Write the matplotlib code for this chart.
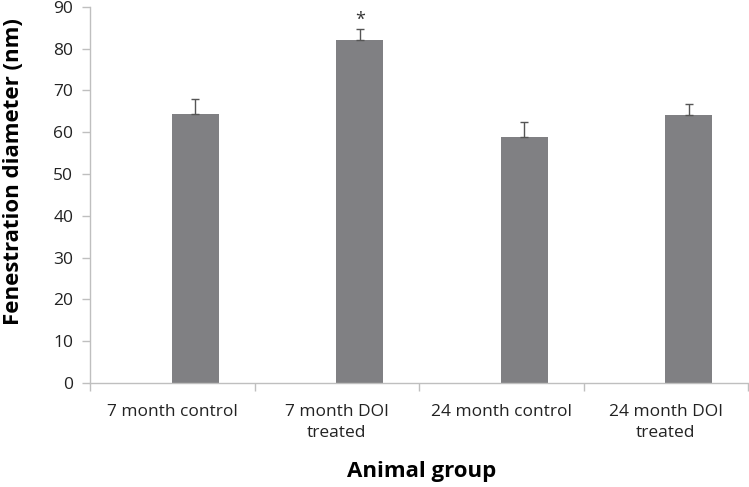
import numpy as np
import matplotlib
matplotlib.use("Agg")
import matplotlib.pyplot as plt

plt.rcParams["font.family"] = ["Open Sans", "DejaVu Sans"]

groups = ["7 month control", "7 month DOI\ntreated", "24 month control", "24 month DOI\ntreated"]
diameter = [64.3, 82.1, 58.9, 64.0]
sem = [3.6, 2.5, 3.6, 2.8]
significant = [False, True, False, False]

BAR_COLOR = "#808083"
AXIS_COLOR = "#bfbfbf"

fig = plt.figure(figsize=(7.49, 4.87), dpi=100)
ax = fig.add_axes([0.1202, 0.2136, 0.8785, 0.7726])

x = np.arange(len(groups))
offset = 0.14
width = 0.286
ax.bar(x + offset, diameter, width=width, color=BAR_COLOR, zorder=2)
ax.errorbar(x + offset, diameter, yerr=[np.zeros(len(sem)), sem], fmt="none",
            ecolor="#555555", elinewidth=1.0, capsize=3, capthick=1.0, zorder=3)

for xi, val, err, sig in zip(x, diameter, sem, significant):
    if sig:
        ax.text(xi + offset, val + err + 2.2, "*", ha="center", va="center",
                fontsize=13, color="#333333")

ax.set_xlim(-0.5, len(groups) - 0.5)
ax.set_ylim(0, 90)
ax.set_yticks(np.arange(0, 91, 10))
ax.tick_params(axis="y", labelsize=12.5, length=6, width=1, color=AXIS_COLOR,
               labelcolor="#222222", pad=6)

# category labels centred, tick marks on the category boundaries
ax.set_xticks(x)
ax.set_xticklabels(groups, fontsize=12.5, color="#222222", linespacing=1.4)
ax.tick_params(axis="x", which="major", length=0, pad=15)
ax.set_xticks(np.arange(-0.5, len(groups)), minor=True)
ax.tick_params(axis="x", which="minor", length=6, width=1, color=AXIS_COLOR)

for side in ["top", "right"]:
    ax.spines[side].set_visible(False)
for side in ["left", "bottom"]:
    ax.spines[side].set_color(AXIS_COLOR)
    ax.spines[side].set_linewidth(1)

ax.set_ylabel("Fenestration diameter (nm)", fontsize=16, fontweight="bold", va="center")
ax.yaxis.set_label_coords(-0.117, 0.563)
ax.set_xlabel("Animal group", fontsize=16, fontweight="bold", va="center")
ax.xaxis.set_label_coords(0.504, -0.236)

fig.savefig("out.png", dpi=100)
